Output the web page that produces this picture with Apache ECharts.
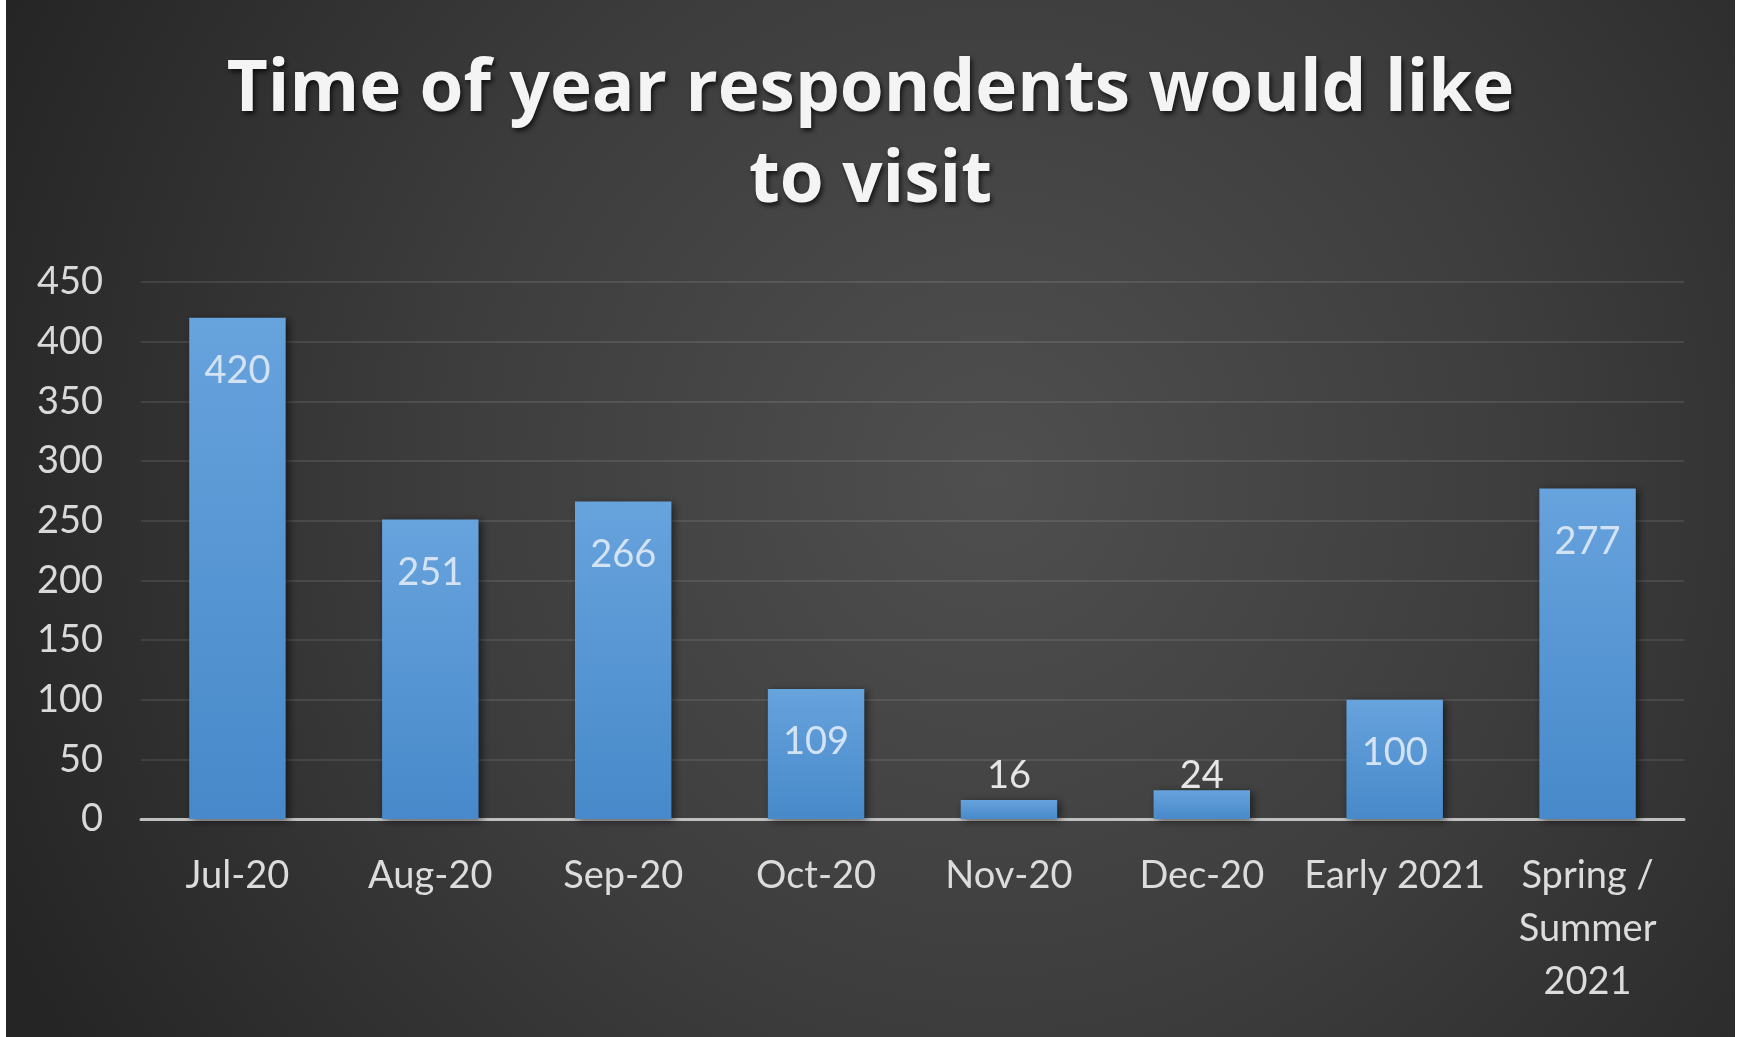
<!DOCTYPE html>
<html>
<head>
<meta charset="utf-8">
<script src="https://cdn.jsdelivr.net/npm/echarts@6/dist/echarts.min.js"></script>
<style>
  html, body { margin: 0; padding: 0; background: #fff; }
  #chart { position: absolute; left: 6px; top: 0; width: 1729px; height: 1037px; }
</style>
</head>
<body>
<div id="chart"></div>
<script>
const categories = ['Jul-20', 'Aug-20', 'Sep-20', 'Oct-20', 'Nov-20', 'Dec-20', 'Early 2021', 'Spring /\nSummer\n2021'];
const values = [420, 251, 266, 109, 16, 24, 100, 277];
const yTicks = [0, 50, 100, 150, 200, 250, 300, 350, 400, 450];

const chart = echarts.init(document.getElementById('chart'));

// small bars can't hold their label, so it sits just above the axis instead
const barData = values.map(v => v < 50
  ? { value: v, label: { position: 'insideBottom', distance: 23, color: '#e6e6e6' } }
  : v);

const option = {
  backgroundColor: new echarts.graphic.RadialGradient(0.57, 0.46, 1.05, [
    { offset: 0, color: '#4f4f4f' },
    { offset: 0.5, color: '#3d3d3d' },
    { offset: 1, color: '#252525' }
  ]),
  title: {
    text: 'Time of year respondents would like\nto visit',
    left: 'center',
    top: 40,
    textStyle: {
      fontFamily: 'Open Sans',
      fontWeight: 'bold',
      fontSize: 71,
      lineHeight: 91,
      color: '#f4f4f4',
      textShadowColor: 'rgba(0,0,0,0.7)',
      textShadowBlur: 5,
      textShadowOffsetX: 2,
      textShadowOffsetY: 3
    }
  },
  grid: { left: 135, right: 51, top: 282, bottom: 218 },
  xAxis: {
    type: 'category',
    data: categories,
    axisLine: { lineStyle: { color: '#c0c0c0', width: 3 } },
    axisTick: { show: false },
    axisLabel: {
      interval: 0,
      margin: 30,
      fontFamily: 'Lato',
      fontSize: 38,
      lineHeight: 53,
      color: '#dcdcdc'
    }
  },
  yAxis: {
    type: 'value',
    min: yTicks[0],
    max: yTicks[yTicks.length - 1],
    interval: 50,
    axisLine: { show: false },
    axisTick: { show: false },
    axisLabel: {
      margin: 38,
      fontFamily: 'Lato',
      fontSize: 38,
      color: '#d9d9d9'
    },
    splitLine: { lineStyle: { color: 'rgba(255,255,255,0.13)', width: 1.5 } }
  },
  series: [{
    type: 'bar',
    data: barData,
    barWidth: '50%',
    itemStyle: {
      color: new echarts.graphic.LinearGradient(0, 0, 0, 1, [
        { offset: 0, color: '#67a3dd' },
        { offset: 1, color: '#4789ca' }
      ]),
      shadowColor: 'rgba(0,0,0,0.55)',
      shadowBlur: 8,
      shadowOffsetX: 3,
      shadowOffsetY: 2
    },
    label: {
      show: true,
      position: 'insideTop',
      distance: 33,
      fontFamily: 'Lato',
      fontSize: 38,
      lineHeight: 40,
      color: '#d3e3f4'
    }
  }]
};

chart.setOption(option);
</script>
</body>
</html>
